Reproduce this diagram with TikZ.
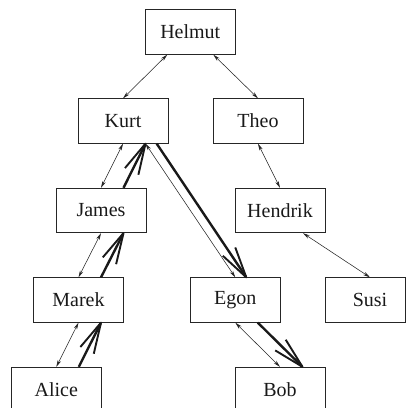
\documentclass[tikz,border=0pt]{standalone}
\usepackage{fontspec}
\setmainfont{Liberation Serif}
\usetikzlibrary{arrows.meta}
\pgfdeclarearrow{
  name = LongBarb,
  parameters = {\the\pgfarrowlength,\the\pgfarrowwidth},
  setup code = {
    \pgfarrowssettipend{0pt}
    \pgfarrowssetlineend{-0.8pt}
    \pgfarrowssavethe\pgfarrowlength
    \pgfarrowssavethe\pgfarrowwidth
  },
  drawing code = {
    \pgfsetlinewidth{1.9pt}
    \pgfsetroundjoin
    \pgfsetbuttcap
    \pgfpathmoveto{\pgfpoint{-\pgfarrowlength}{0.5\pgfarrowwidth}}
    \pgfpathlineto{\pgfpointorigin}
    \pgfpathlineto{\pgfpoint{-\pgfarrowlength}{-0.5\pgfarrowwidth}}
    \pgfusepathqstroke
  },
  defaults = {length=31pt,width=15pt}
}
\begin{document}
\begin{tikzpicture}[x=1pt,y=-1pt,
  box/.style={draw=black!85,line width=0.8pt,minimum width=90pt,minimum height=44.5pt,inner sep=0pt,
    font=\fontsize{20}{22}\selectfont,text=black!90},
  thin/.style={draw=black!85,line width=0.55pt,{Stealth[length=7pt,width=3.5pt]}-{Stealth[length=7pt,width=3.5pt]}},
  thick/.style={draw=black!90,line width=2.4pt,-{LongBarb[length=31pt,width=15pt]}}]
\useasboundingbox (0,0) rectangle (406,408);
\clip (0,0) rectangle (406,408);
\node[box] (helmut) at (190.3,32) {Helmut};
\node[box] (kurt) at (123,121) {Kurt};
\node[box] (theo) at (258,121) {Theo};
\node[box] (james) at (101,210.5) {James};
\node[box] (hendrik) at (280,210.5) {Hendrik};
\node[box] (marek) at (78.5,300) {Marek};
\node[box] (egon) at (235.3,300) {Egon};
\node[box,minimum width=80pt] (susi) at (365,300) {\hspace{10pt}Susi};
\node[box] (alice) at (56.3,389.5) {Alice};
\node[box] (bob) at (280,389.5) {Bob};
% thin double arrows
\draw[thin] ([xshift=-23pt]helmut.south) -- (kurt.north);
\draw[thin] ([xshift=23pt]helmut.south) -- (theo.north);
\draw[thin] (kurt.south) -- (james.north);
\draw[thin] (theo.south) -- (hendrik.north);
\draw[thin] ([xshift=23pt]hendrik.south) -- ([xshift=5pt]susi.north);
\draw[thin] (james.south) -- (marek.north);
\draw[thin] (marek.south) -- (alice.north);
\draw[thin] ([xshift=22.5pt]kurt.south) -- (egon.north);
\draw[thin] (egon.south) -- (bob.north);
% thick path arrows
\draw[thick] ([xshift=22.5pt]alice.north) -- ([xshift=22.5pt]marek.south);
\draw[thick] ([xshift=22.5pt]marek.north) -- ([xshift=22.5pt]james.south);
\draw[thick] ([xshift=22.5pt]james.north) -- ([xshift=22.5pt]kurt.south);
\draw[thick] ([xshift=33.7pt]kurt.south) -- ([xshift=11pt]egon.north);
\draw[thick] ([xshift=22.5pt]egon.south) -- ([xshift=22.5pt]bob.north);
\end{tikzpicture}
\end{document}
